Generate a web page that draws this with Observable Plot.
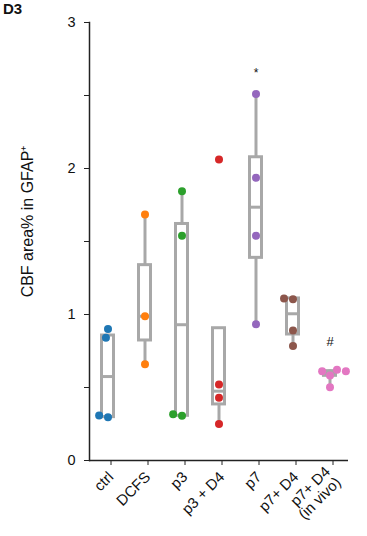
<!DOCTYPE html>
<html><head><meta charset="utf-8">
<script src="https://cdn.jsdelivr.net/npm/d3@7"></script>
<script src="https://cdn.jsdelivr.net/npm/@observablehq/plot@0.6"></script>
<style>
body{margin:0;background:#fff;}
#wrap{position:relative;width:367px;height:536px;}
#title{position:absolute;left:3px;top:0px;font:bold 15px 'Liberation Sans',Arial,sans-serif;color:#111;}
</style>
</head><body><div id="wrap"><div id="title">D3</div></div>
<script>
// categories and colours
const categories = ["ctrl", "DCFS", "p3", "p3 + D4", "p7", "p7+ D4", "p7+ D4\n(in vivo)"];
const colors = ["#1f77b4", "#ff7f0e", "#2ca02c", "#d62728", "#9467bd", "#8c564b", "#e377c2"];

// individual values (CBF area% in GFAP+)
const valsCtrl = [0.297, 0.308, 0.90, 0.84];
const valsDCFS = [1.685, 0.988, 0.66];
const valsP3 = [0.306, 0.317, 1.845, 1.539];
const valsP3D4 = [2.062, 0.52, 0.43, 0.25];
const valsP7 = [2.51, 1.936, 1.539, 0.934];
const valsP7D4 = [1.105, 1.11, 0.89, 0.785];
const valsInVivo = [0.502, 0.582, 0.612, 0.621, 0.612];

// box statistics per category
const whiskerLo = [0.297, 0.66, 0.306, 0.25, 0.934, 0.785, 0.50];
const boxQ1 = [0.297, 0.822, 0.306, 0.384, 1.388, 0.863, 0.58];
const boxMedian = [0.575, 0.988, 0.93, 0.475, 1.735, 1.005, 0.60];
const boxQ3 = [0.856, 1.338, 1.62, 0.906, 2.077, 1.11, 0.612];
const whiskerHi = [0.856, 1.685, 1.845, 0.906, 2.51, 1.11, 0.62];

// y axis
const yTicks = [0, 0.5, 1, 1.5, 2, 2.5, 3];
const yDomain = [0, 3];
const yLabel = "CBF area% in GFAP\u207A";

// significance marks
const annotCats = ["p7", "p7+ D4\n(in vivo)"];
const annotText = ["*", "#"];
const annotY = [2.65, 0.81];
const annotSize = [12, 13];

// tables built from the arrays
const valueSets = [valsCtrl, valsDCFS, valsP3, valsP3D4, valsP7, valsP7D4, valsInVivo];
const points = valueSets.flatMap((vs, i) => vs.map(v => ({cat: categories[i], value: v})));
const boxes = categories.map((c, i) => ({cat: c, lo: whiskerLo[i], q1: boxQ1[i], med: boxMedian[i], q3: boxQ3[i], hi: whiskerHi[i]}));
const annots = annotCats.map((c, i) => ({cat: c, t: annotText[i], y: annotY[i], s: annotSize[i]}));

const boxColor = "#a8a8a8";
const axisColor = "#222";
const font = "'Liberation Sans', Arial, sans-serif";

const chart = Plot.plot({
  width: 367,
  height: 536,
  marginLeft: 89,
  marginRight: 19,
  marginTop: 22,
  marginBottom: 76,
  style: {fontFamily: font, background: "#fff", color: "#111"},
  fx: {domain: categories, padding: 0, label: null},
  y: {domain: yDomain, label: null},
  color: {domain: categories, range: colors},
  marks: [
    // whiskers
    Plot.ruleX(boxes, {x: null, fx: "cat", y1: "q3", y2: "hi", stroke: boxColor, strokeWidth: 3}),
    Plot.ruleX(boxes, {x: null, fx: "cat", y1: "lo", y2: "q1", stroke: boxColor, strokeWidth: 3}),
    // boxes
    Plot.rectY(boxes, {fx: "cat", y1: "q1", y2: "q3", fill: "none", stroke: boxColor, strokeWidth: 3, insetLeft: 12.5, insetRight: 12.5}),
    Plot.ruleY(boxes, {fx: "cat", y: "med", stroke: boxColor, strokeWidth: 3, insetLeft: 12.5, insetRight: 12.5}),
    // dots
    Plot.dot(points, Plot.dodgeX("middle", {fx: "cat", y: "value", r: 4, padding: 0, fill: "cat", stroke: "none"})),
    // annotations
    Plot.text(annots, {fx: "cat", y: "y", text: "t", fontSize: "s", fill: "#111"}),
    // axes
    Plot.ruleY([0], {stroke: axisColor, strokeWidth: 1.5}),
    Plot.frame({anchor: "left", fx: () => categories[0], stroke: axisColor, strokeWidth: 1.5}),
    Plot.axisY({
      ticks: yTicks,
      tickFormat: d => Number.isInteger(d) ? String(d) : "",
      tickSize: 5,
      tickPadding: 9,
      fontSize: 14.5,
      stroke: axisColor,
      fill: "#111",
      label: null
    }),
    Plot.text([yLabel], {
      fx: () => categories[0],
      text: d => d,
      frameAnchor: "left",
      textAnchor: "middle",
      rotate: -90,
      dx: -62,
      dy: -20,
      fontSize: 16,
      fill: "#111"
    }),
    Plot.axisFx({
      anchor: "bottom",
      tickRotate: -45,
      tickSize: 5,
      tickPadding: 9,
      dx: 3,
      fontSize: 15,
      stroke: axisColor,
      fill: "#111",
      label: null
    })
  ]
});
document.getElementById("wrap").appendChild(chart);
</script>
</body></html>
